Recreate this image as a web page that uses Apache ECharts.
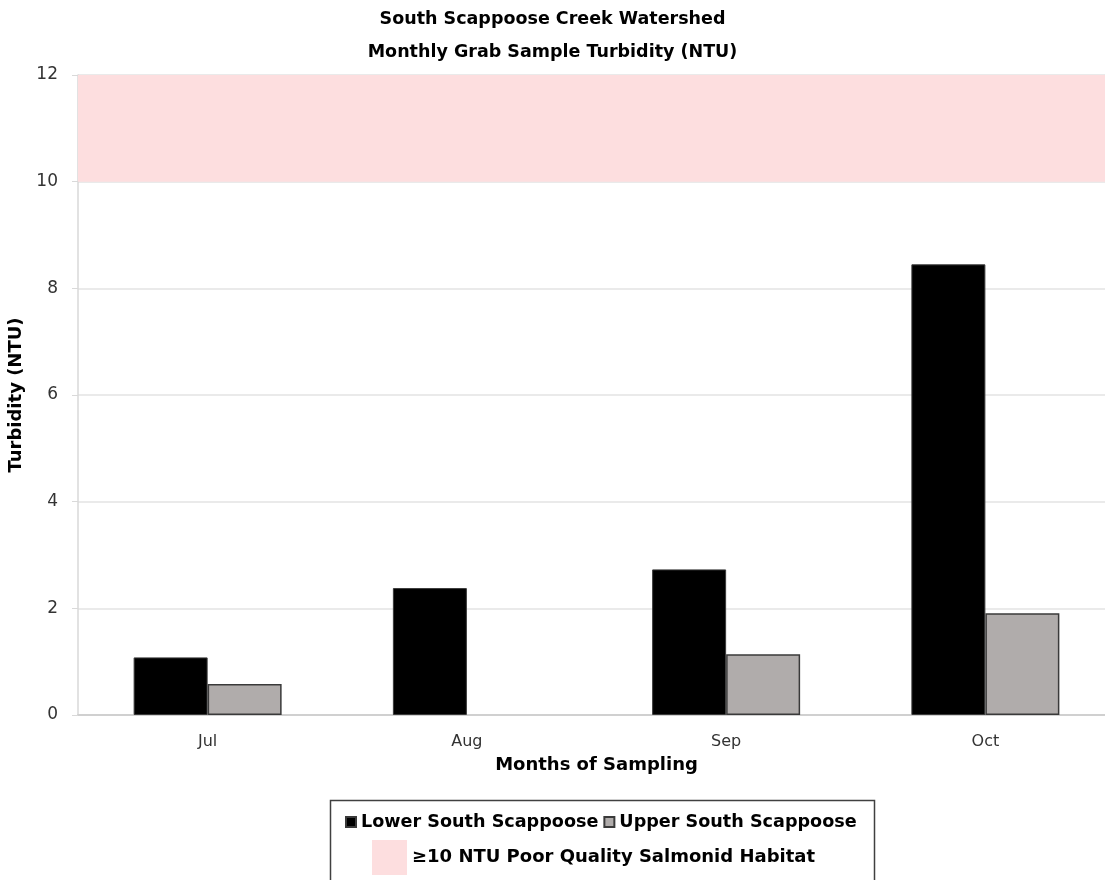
<!DOCTYPE html>
<html>
<head>
<meta charset="utf-8">
<script src="https://cdn.jsdelivr.net/npm/echarts@6/dist/echarts.min.js"></script>
<style>
  html, body { margin: 0; padding: 0; background: #fff; }
  #chart { width: 1105px; height: 880px; }
</style>
</head>
<body>
<div id="chart"></div>
<script>
// Monthly grab samples, turbidity in NTU
const months = ['Jul', 'Aug', 'Sep', 'Oct'];
const lowerSouth = [1.08, 2.38, 2.73, 8.45];
const upperSouth = [0.58, null, 1.14, 1.91];
const habitatBand = [10, 12];
const yTicks = [0, 2, 4, 6, 8, 10, 12];

const seriesNames = ['Lower South Scappoose', 'Upper South Scappoose'];
const bandName = '\u226510 NTU Poor Quality Salmonid Habitat';

const FONT = '"DejaVu Sans", Verdana, sans-serif';
const chart = echarts.init(document.getElementById('chart'));

chart.setOption({
  backgroundColor: '#ffffff',
  animation: false,
  textStyle: { fontFamily: FONT },
  title: {
    text: 'South Scappoose Creek Watershed\nMonthly Grab Sample Turbidity (NTU)',
    left: 'center',
    top: -2,
    textStyle: { fontFamily: FONT, fontSize: 17.5, fontWeight: 'bold', color: '#000', lineHeight: 33 }
  },
  legend: [
    {
      data: seriesNames,
      left: 340,
      top: 808,
      icon: 'rect',
      itemWidth: 10,
      itemHeight: 10,
      itemGap: 5,
      textStyle: { fontFamily: FONT, fontSize: 17.6, fontWeight: 'bold', color: '#000' }
    },
    {
      data: [bandName],
      left: 367,
      top: 835,
      icon: 'rect',
      itemWidth: 35,
      itemHeight: 35,
      textStyle: { fontFamily: FONT, fontSize: 18, fontWeight: 'bold', color: '#000' }
    }
  ],
  graphic: [
    {
      type: 'rect',
      left: 328,
      top: 798,
      shape: { width: 544, height: 100 },
      style: { fill: 'none', stroke: '#404040', lineWidth: 1.5 },
      silent: true
    }
  ],
  grid: {
    left: 78, top: 75, width: 1037, height: 640,
    containLabel: false,
    outerBoundsMode: 'none'
  },
  xAxis: {
    type: 'category',
    data: months,
    name: 'Months of Sampling',
    nameLocation: 'middle',
    nameGap: 41,
    nameTextStyle: { fontFamily: FONT, fontSize: 18, fontWeight: 'bold', color: '#000' },
    axisLine: { lineStyle: { color: '#d0d0d0', width: 2 } },
    axisTick: { show: false },
    axisLabel: { fontFamily: FONT, fontSize: 16, color: '#333', margin: 19 }
  },
  yAxis: {
    type: 'value',
    min: yTicks[0],
    max: yTicks[yTicks.length - 1],
    interval: 2,
    name: 'Turbidity (NTU)',
    nameLocation: 'middle',
    nameGap: 45,
    nameTextStyle: { fontFamily: FONT, fontSize: 18, fontWeight: 'bold', color: '#000' },
    axisLine: { show: true, lineStyle: { color: '#d9d9d9', width: 1.5 } },
    axisTick: { show: true, length: 6, lineStyle: { color: '#d9d9d9' } },
    axisLabel: { fontFamily: FONT, fontSize: 17, color: '#333', margin: 20 },
    splitLine: { lineStyle: { color: '#e3e3e3', width: 1.5 } }
  },
  series: [
    {
      name: bandName,
      type: 'line',
      data: [],
      itemStyle: { color: '#fddedf' },
      lineStyle: { color: '#fddedf' },
      markArea: {
        silent: true,
        itemStyle: { color: '#fddedf' },
        data: [[{ yAxis: habitatBand[0] }, { yAxis: habitatBand[1] }]]
      }
    },
    {
      name: seriesNames[0],
      type: 'bar',
      data: lowerSouth,
      barWidth: 74,
      barGap: '0%',
      itemStyle: { color: '#000000', borderColor: '#3a3a3a', borderWidth: 1 }
    },
    {
      name: seriesNames[1],
      type: 'bar',
      data: upperSouth,
      barWidth: 74,
      barGap: '0%',
      itemStyle: { color: '#b0acab', borderColor: '#3a3a3a', borderWidth: 1.5 }
    }
  ]
});
</script>
</body>
</html>
